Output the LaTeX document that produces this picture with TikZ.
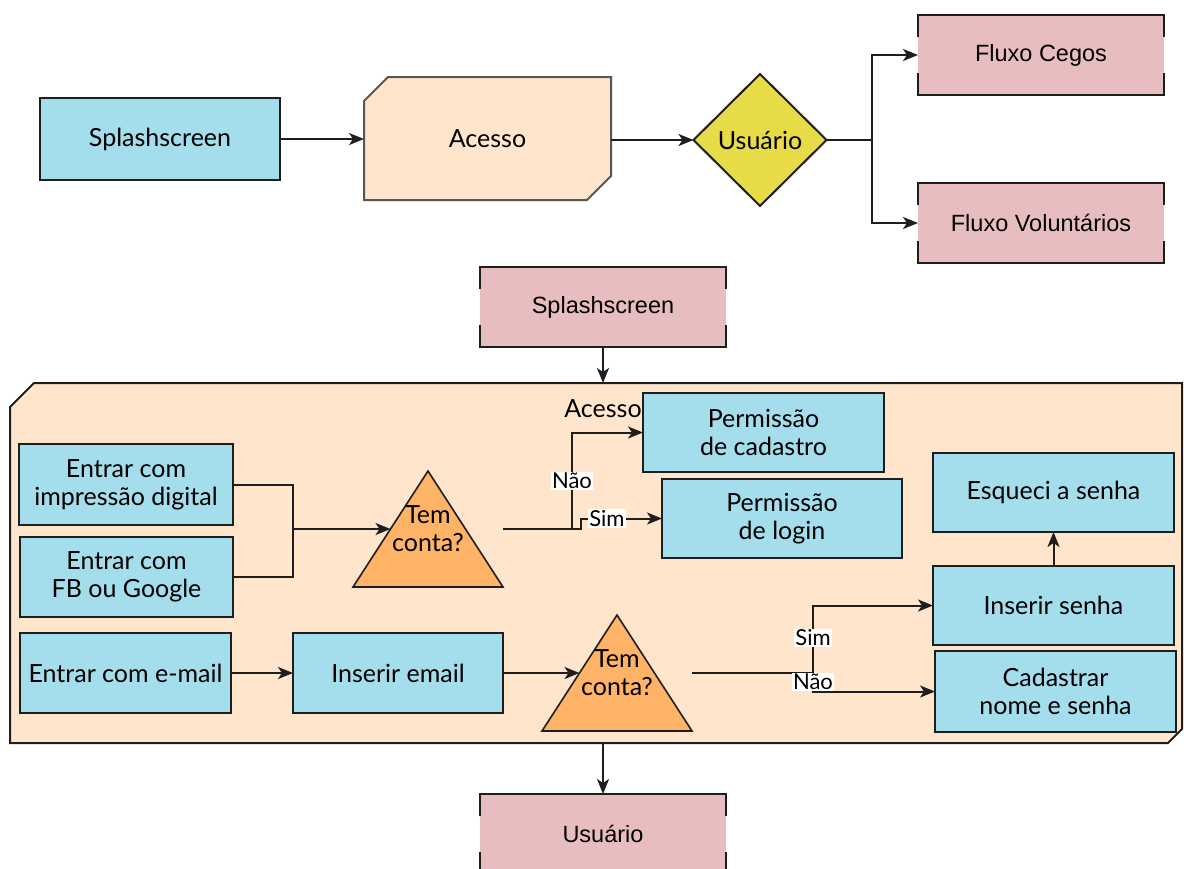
\documentclass[tikz,border=0pt]{standalone}
\usepackage{fontspec}
\setmainfont{Lato}
\newfontfamily\helv{Liberation Sans}
\usetikzlibrary{arrows.meta,shapes.geometric,calc}
\pgfdeclarelayer{background}
\pgfsetlayers{background,main}

\definecolor{boxblue}{HTML}{A4DDEB}
\definecolor{peachC}{HTML}{FFE5CC}
\definecolor{yellowC}{HTML}{E8DB48}
\definecolor{orangeC}{HTML}{FFB366}
\definecolor{pinkC}{HTML}{E8BDBF}
\definecolor{lineC}{HTML}{1E1E1E}

\tikzset{
  ink/.style={draw=lineC, line width=2pt},
  txt/.style={font=\fontsize{25}{28}\selectfont, align=center},
  bluebox/.style={ink, fill=boxblue, txt, inner sep=0pt, outer sep=0pt},
  pinkbox/.style={fill=pinkC, inner sep=0pt, outer sep=0pt,
    minimum width=246pt, minimum height=80pt,
    font=\helv\fontsize{23.5}{28}\selectfont},
  holder/.style={txt, inner sep=0pt, outer sep=0pt},
  wire/.style={line width=2pt, draw=lineC},
  arr/.style={wire, -{Stealth[length=15pt,width=12pt,inset=4pt]}},
  tag/.style={fill=white, inner sep=1pt, font=\fontsize{22}{24}\selectfont},
}

% pink boxes: full top and bottom edges, short stubs on the sides
\newcommand\pinkframe[1]{%
  \draw[wire] ([yshift=-22pt]#1.north west) -- (#1.north west) -- (#1.north east) -- ([yshift=-22pt]#1.north east);
  \draw[wire] ([yshift=22pt]#1.south west) -- (#1.south west) -- (#1.south east) -- ([yshift=22pt]#1.south east);
}

\begin{document}
\begin{tikzpicture}[x=1pt,y=-1pt]
\clip (0,0) rectangle (1184,868);

% ---------- overview row ----------
\node[bluebox, minimum width=240pt, minimum height=82pt] (splash) at (160,139) {Splashscreen};
\node[holder, minimum width=247pt, minimum height=123pt] (acesso) at (487.5,138.5) {Acesso};
\node[diamond, ink, fill=yellowC, txt, inner sep=0pt, outer sep=0pt,
      minimum width=133pt, minimum height=132pt] (usuario) at (760,140) {Usuário};
\node[pinkbox] (cegos) at (1041,55) {Fluxo Cegos};
\node[pinkbox] (volunt) at (1041,223) {Fluxo Voluntários};
\pinkframe{cegos}
\pinkframe{volunt}
\coordinate (split) at (872,140);

\draw[arr] (splash.east) -- (splash.east -| acesso.west);
\draw[arr] (acesso.east |- usuario.west) -- (usuario.west);
\draw[wire] (usuario.east) -- (split);
\draw[arr] (split) |- (cegos.west);
\draw[arr] (split) |- (volunt.west);

% ---------- detailed access flow ----------
\node[pinkbox] (splash2) at (603,307) {Splashscreen};
\pinkframe{splash2}
\node[holder, minimum width=1172pt, minimum height=360pt] (acessobox) at (596,563) {};
\node[holder] (acessolbl) at (603,409) {Acesso};

\node[bluebox, minimum width=214pt, minimum height=81pt] (digital) at (126,484.5) {Entrar com\\impressão digital};
\node[bluebox, minimum width=213pt, minimum height=80pt] (social) at (126.5,577) {Entrar com\\FB ou Google};
\node[bluebox, minimum width=211pt, minimum height=80pt] (email) at (125.5,673) {Entrar com e-mail};
\node[bluebox, minimum width=210pt, minimum height=80pt] (insemail) at (398,673) {Inserir email};

\node[holder, minimum width=150pt, minimum height=116pt] (conta1) at (428,529) {Tem\\conta?};
\node[holder, minimum width=150pt, minimum height=116pt] (conta2) at (617,673) {Tem\\conta?};

\node[bluebox, minimum width=241pt, minimum height=79pt] (permcad) at (763.5,432.5) {Permissão\\de cadastro};
\node[bluebox, minimum width=240pt, minimum height=79pt] (permlog) at (782,518.5) {Permissão\\de login};
\node[bluebox, minimum width=241pt, minimum height=79pt] (esqueci) at (1053.5,492.5) {Esqueci a senha};
\node[bluebox, minimum width=241pt, minimum height=79pt] (insenha) at (1053.5,605.5) {Inserir senha};
\node[bluebox, minimum width=241pt, minimum height=81pt] (cadastrar) at (1055.5,691.5) {Cadastrar\\nome e senha};

\node[pinkbox] (usuario2) at (603,834) {Usuário};
\pinkframe{usuario2}

\begin{pgfonlayer}{background}
  \filldraw[ink, draw=lineC!75, fill=peachC]
    ([yshift=-24pt]acesso.north west) -- ([xshift=24pt]acesso.north west) -- (acesso.north east)
    -- ([yshift=24pt]acesso.south east) -- ([xshift=-24pt]acesso.south east) -- (acesso.south west) -- cycle;
  \filldraw[ink, fill=peachC]
    ([yshift=-24pt]acessobox.north west) -- ([xshift=24pt]acessobox.north west) -- (acessobox.north east)
    -- ([yshift=14pt]acessobox.south east) -- ([xshift=-14pt]acessobox.south east) -- (acessobox.south west) -- cycle;
  \filldraw[ink, line width=1.6pt, fill=orangeC] (conta1.north) -- (conta1.south east) -- (conta1.south west) -- cycle;
  \filldraw[ink, line width=1.6pt, fill=orangeC] (conta2.north) -- (conta2.south east) -- (conta2.south west) -- cycle;
\end{pgfonlayer}

\coordinate (join) at (293,529);
\draw[wire] (digital.east) -| (join);
\draw[wire] (social.east) -| (join);
\draw[arr] (join) -- ($(conta1.north)!.5!(conta1.south west)$);

\draw[wire] (conta1.east) -- ++(69,0) coordinate (fork1);
\draw[arr] (fork1) |- node[tag, pos=.25] {Não} (permcad.west);
\draw[arr] (fork1) -- ++(9,0) |- node[tag, pos=.66] {Sim} (permlog.west);

\draw[arr] (email.east) -- (insemail.west);
\draw[arr] (insemail.east) -- ($(conta2.north)!.5!(conta2.south west)$);
\draw[wire] (conta2.east) -- ++(121,0) coordinate (fork2);
\draw[arr] (fork2) |- (insenha.west);
\draw[arr] (fork2) |- (cadastrar.west);
\node[tag] at ($(fork2)+(0,-35)$) {Sim};
\node[tag] at ($(fork2)+(0,9)$) {Não};
\draw[arr] (insenha.north) -- (esqueci.south);

\draw[arr] (splash2.south) -- (splash2.south |- acessobox.north);
\draw[arr] (usuario2.north |- acessobox.south) -- (usuario2.north);
\end{tikzpicture}
\end{document}
